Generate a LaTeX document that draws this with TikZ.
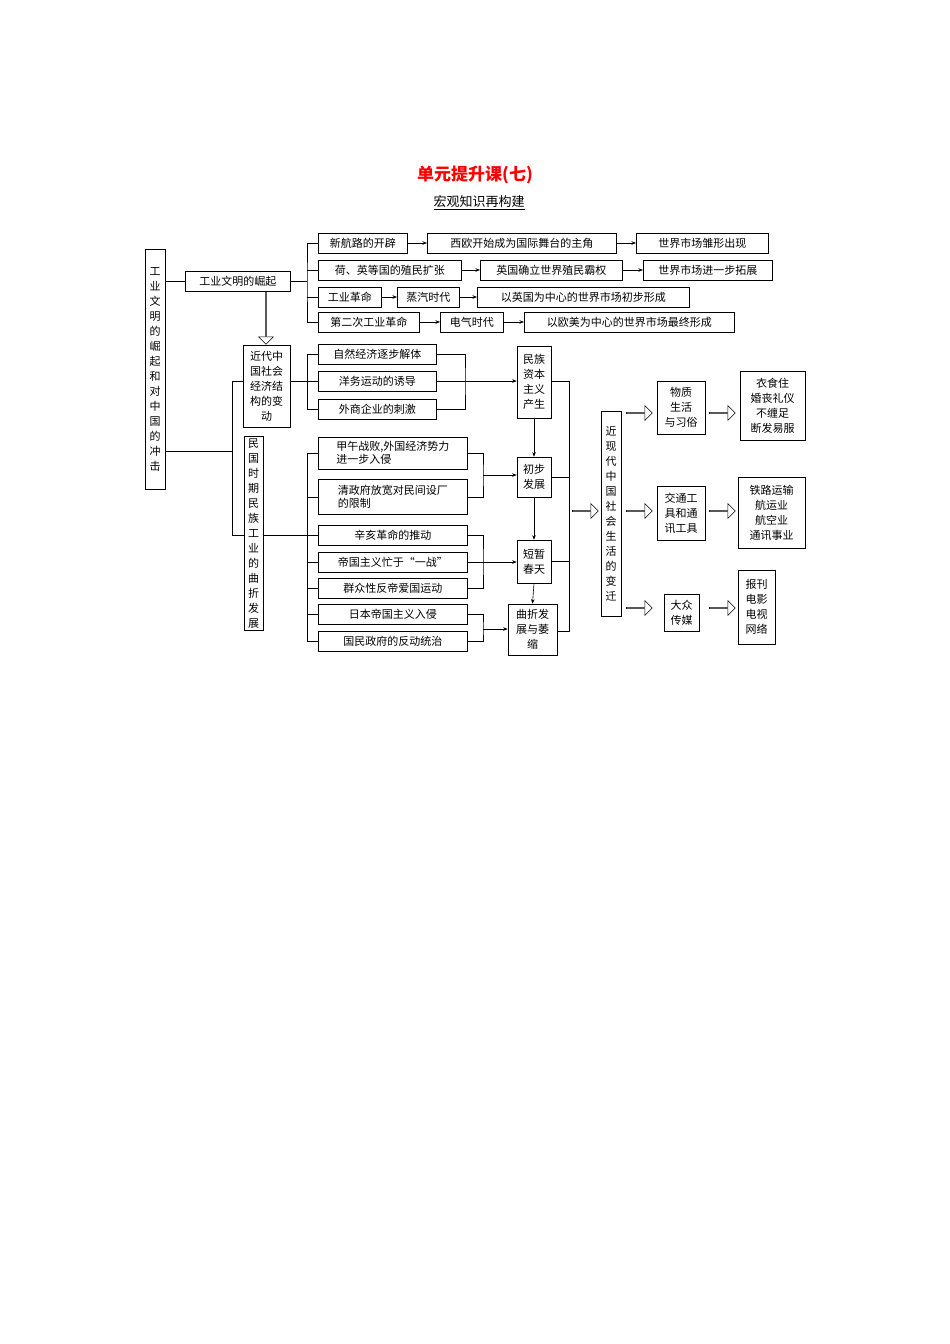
\documentclass[tikz,border=0pt]{standalone}
\usepackage{fontspec}
\setmainfont{Noto Sans CJK SC}
\usetikzlibrary{arrows.meta,shapes.arrows}
\begin{document}
\begin{tikzpicture}[x=1pt,y=-1pt,
  box/.style={draw,line width=0.6pt,inner sep=1.5pt,minimum height=20pt,font=\fontsize{11}{13}\selectfont,anchor=west},
  vbox/.style={draw,line width=0.6pt,inner sep=2pt,align=center,font=\fontsize{11}{15}\selectfont},
  mbox/.style={draw,line width=0.6pt,inner sep=2pt,align=center,font=\fontsize{11}{15}\selectfont},
  ln/.style={line width=0.6pt},
  arr/.style={line width=0.6pt,-{Stealth[length=4.5pt,width=3.5pt]}},
  harrow/.style={single arrow,draw,line width=0.6pt,inner sep=0pt,minimum height=26pt,minimum width=15pt,single arrow head extend=3.5pt,anchor=tail}]
\useasboundingbox (0,0) rectangle (950,1344);
\node[text=red,font=\fontsize{17}{20}\selectfont\bfseries] (t1) at (475,175) {单元提升课(七)};
\node[font=\fontsize{13}{15}\selectfont] (t2) at (479,203) {\underline{宏观知识再构建}};
% left box
\node[vbox,minimum width=20pt,minimum height=240pt] (L) at (155,369) {工\\业\\文\\明\\的\\崛\\起\\和\\对\\中\\国\\的\\冲\\击};
\node[box,minimum width=105pt] (gy) at (185,281) {工业文明的崛起};
\draw[ln] (L.east |- gy) -- (gy.west);
% rows
\node[box,minimum width=89pt] (a1) at (318,243) {新航路的开辟};
\node[box,minimum width=189pt] (a2) at (427,243) {西欧开始成为国际舞台的主角};
\node[box,minimum width=132pt] (a3) at (636,243) {世界市场雏形出现};
\node[box,minimum width=143pt] (b1) at (318,270) {荷、英等国的殖民扩张};
\node[box,minimum width=142pt] (b2) at (480,270) {英国确立世界殖民霸权};
\node[box,minimum width=129pt] (b3) at (643,270) {世界市场进一步拓展};
\node[box,minimum width=63pt] (c1) at (318,297) {工业革命};
\node[box,minimum width=62pt] (c2) at (397,297) {蒸汽时代};
\node[box,minimum width=212pt] (c3) at (477,297) {以英国为中心的世界市场初步形成};
\node[box,minimum width=101pt] (d1) at (318,322) {第二次工业革命};
\node[box,minimum width=63pt] (d2) at (440,322) {电气时代};
\node[box,minimum width=210pt] (d3) at (524,322) {以欧美为中心的世界市场最终形成};
\coordinate (k1) at (307,281);
\draw[ln] (gy.east) -- (k1);
\draw[ln] (a1.west) -| (k1) |- (d1.west);
\draw[ln] (b1.west) -- (b1.west -| k1);
\draw[ln] (c1.west) -- (c1.west -| k1);
\foreach \p/\q in {a1/a2,a2/a3,b1/b2,b2/b3,c1/c2,c2/c3,d1/d2,d2/d3} \draw[arr] (\p) -- (\q);
% China boxes
\node[mbox,minimum width=47pt,minimum height=82pt,inner sep=1pt] (jd) at (266.5,386) {近代中\\国社会\\经济结\\构的变\\动};
\node[single arrow,draw,line width=0.6pt,inner sep=0pt,minimum height=53pt,minimum width=15pt,single arrow head extend=3.5pt,shape border rotate=270,anchor=tail] (da) at (266,291) {};
\node[vbox,minimum width=19pt,minimum height=189pt] (mg) at (253.5,533.5) {民\\国\\时\\期\\民\\族\\工\\业\\的\\曲\\折\\发\\展};
\coordinate (j) at (232,451);
\draw[ln] (L.east |- j) -- (j);
\draw[ln] (jd.west |- 0,381) -| (232,535) -- (mg.west |- 0,535);
% group 1
\node[box,minimum width=118pt] (z1) at (318,354) {自然经济逐步解体};
\node[box,minimum width=118pt] (z2) at (318,381) {洋务运动的诱导};
\node[box,minimum width=118pt] (z3) at (318,409) {外商企业的刺激};
\draw[ln] (jd.east |- z2) -- (307,381);
\draw[ln] (z1.west) -| (307,409) -- (z3.west);
\draw[ln] (307,381) -- (z2.west);
\node[mbox,minimum width=34pt,minimum height=72pt,inner sep=1pt] (zb) at (534,382) {民族\\资本\\主义\\产生};
\coordinate (r1) at (465,381);
\draw[ln] (z1.east) -| (r1) |- (z3.east);
\draw[ln] (z2.east) -- (r1);
\draw[arr] (r1) -- (zb.west |- r1);
% group 2
\node[box,minimum width=149pt,minimum height=32pt,align=left] (e1) at (318,453) {甲午战败,外国经济势力\\进一步入侵};
\node[box,minimum width=149pt,minimum height=35pt,align=left] (e2) at (318,497) {清政府放宽对民间设厂\\的限制};
\node[box,minimum width=149pt] (e3) at (318,535) {辛亥革命的推动};
\node[box,minimum width=149pt] (e4) at (318,562) {帝国主义忙于“一战”};
\node[box,minimum width=149pt] (e5) at (318,588) {群众性反帝爱国运动};
\node[box,minimum width=149pt] (e6) at (318,614) {日本帝国主义入侵};
\node[box,minimum width=149pt] (e7) at (318,641) {国民政府的反动统治};
\draw[ln] (mg.east |- e3) -- (e3.west);
\draw[ln] (e1.west) -| (307,641) -- (e7.west);
\foreach \e in {e2,e4,e5,e6} \draw[ln] (\e.west) -- (\e.west -| 307,0);
\node[mbox,minimum width=34pt,minimum height=40pt,inner sep=1pt] (cb) at (534,477) {初步\\发展};
\node[mbox,minimum width=34pt,minimum height=43pt,inner sep=1pt] (dz) at (534,561.5) {短暂\\春天};
\node[mbox,minimum width=49pt,minimum height=51pt,inner sep=1pt] (qz) at (532.5,629.5) {曲折发\\展与萎\\缩};
\coordinate (r2) at (483,475);
\draw[ln] (e1.east) -| (r2) |- (e2.east);
\draw[arr] (r2) -- (cb.west |- r2);
\coordinate (r3) at (483,562);
\draw[ln] (e3.east) -| (r3) |- (e5.east);
\draw[ln] (e4.east) -- (r3);
\draw[arr] (r3) -- (dz.west |- r3);
\coordinate (r4) at (483,629);
\draw[ln] (e6.east) -| (r4) |- (e7.east);
\draw[arr] (r4) -- (qz.west |- r4);
\draw[arr] (zb.south) -- (cb.north);
\draw[arr] (cb.south) -- (dz.north);
\draw[arr] (dz.south) -- (qz.north);
\coordinate (c) at (569,381);
\draw[ln] (zb.east |- c) -- (c) -- (569,631) -- (qz.east |- 0,631);
\draw[ln] (cb.east) -- (cb.east -| c);
\draw[ln] (dz.east) -- (dz.east -| c);
% right part
\node[vbox,minimum width=20pt,minimum height=205pt] (jx) at (611,513.5) {近\\现\\代\\中\\国\\社\\会\\生\\活\\的\\变\\迁};
\node[harrow] (h0) at (572,511) {};
\node[mbox,minimum width=48pt,minimum height=53pt,inner sep=1pt] (w1) at (681,407.5) {物质\\生活\\与习俗};
\node[mbox,minimum width=48pt,minimum height=54pt,inner sep=1pt] (w2) at (681,513) {交通工\\具和通\\讯工具};
\node[mbox,minimum width=35pt,minimum height=37pt,inner sep=1pt] (w3) at (681.5,612.5) {大众\\传媒};
\node[mbox,minimum width=65pt,minimum height=69pt,inner sep=1pt] (v1) at (772.5,405.5) {衣食住\\婚丧礼仪\\不缠足\\断发易服};
\node[mbox,minimum width=67pt,minimum height=71pt,inner sep=1pt] (v2) at (771.5,512.5) {铁路运输\\航运业\\航空业\\通讯事业};
\node[mbox,minimum width=37pt,minimum height=74pt,inner sep=1pt] (v3) at (756.5,607) {报刊\\电影\\电视\\网络};
\node[harrow] at (626,413) {};
\node[harrow] at (626,511) {};
\node[harrow] at (626,608) {};
\node[harrow] at (709,413) {};
\node[harrow] at (709,511) {};
\node[harrow] at (709,608) {};
\end{tikzpicture}
\end{document}
